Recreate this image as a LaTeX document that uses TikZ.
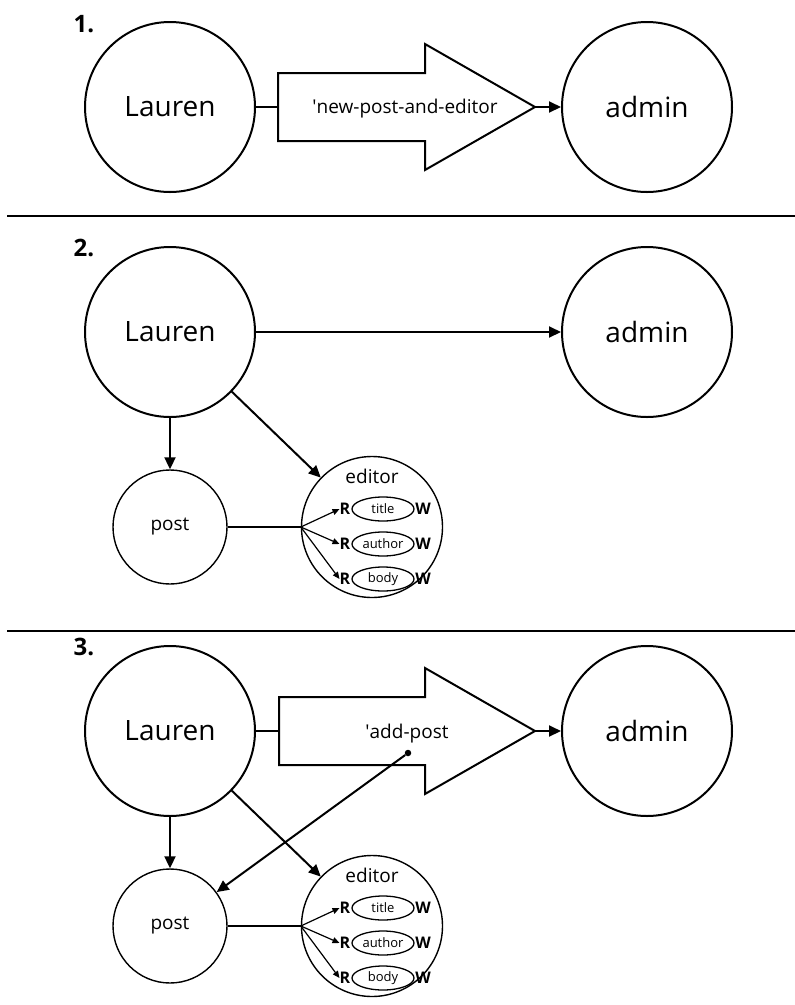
\documentclass[tikz,border=0pt]{standalone}
\usepackage{fontspec}
\setmainfont{Open Sans}
\usetikzlibrary{arrows.meta,shapes.geometric}
\tikzset{
 big/.style={circle, draw, line width=2pt, minimum size=170pt, inner sep=0pt, font=\fontsize{28}{32}\selectfont},
 small/.style={circle, draw, line width=1.4pt, minimum size=114pt, inner sep=0pt, font=\fontsize{19}{22}\selectfont},
 edit/.style={circle, draw, line width=1.4pt, minimum size=141pt, inner sep=0pt},
 conn/.style={line width=2pt, -{Triangle[length=12pt,width=11pt]}},
 thinl/.style={line width=1.4pt},
 sarr/.style={line width=1.2pt, -{Triangle[length=7pt,width=6pt]}},
 field/.style={ellipse, draw, line width=1.3pt, minimum width=62pt, minimum height=24pt, inner sep=0pt, font=\fontsize{13}{15}\selectfont},
 rw/.style={font=\bfseries\fontsize{16}{18}\selectfont, inner sep=0pt},
 num/.style={font=\bfseries\fontsize{24}{28}\selectfont, inner sep=0pt},
 sepline/.style={line width=2.5pt},
 bigarrow/.style={draw, line width=2pt, fill=white, line join=miter},
 lab/.style={font=\fontsize{19}{22}\selectfont, inner sep=0pt},
 dotnode/.style={circle, fill, inner sep=0pt, minimum size=6.5pt},
}
\begin{document}
\begin{tikzpicture}[x=1pt,y=-1pt]
\useasboundingbox (0,0) rectangle (795,1005);
% separators
\coordinate (s1a) at (7,216); \coordinate (s1b) at (795,216);
\coordinate (s2a) at (7,631); \coordinate (s2b) at (795,631);
\draw[sepline] (s1a) -- (s1b);
\draw[sepline] (s2a) -- (s2b);

% ---------- Section 1 ----------
\node[num] (n1) at (84,24) {1.};
\node[big] (L1) at (170,107) {Lauren};
\node[big] (A1) at (647,107) {admin};
\draw[bigarrow] (278,73) -- (425,73) -- (425,44) -- (535,107) -- (425,170) -- (425,141) -- (278,141) -- cycle;
\coordinate (t1) at (278,107);
\coordinate (p1) at (535,107);
\node[lab, anchor=base] (m1) at (405,113) {\textquotesingle new-post-and-editor};
\draw[line width=2pt] (L1) -- (t1);
\draw[conn] (p1) -- (A1);

% ---------- Section 2 ----------
\node[num] (n2) at (84,248) {2.};
\node[big] (L2) at (170,332) {Lauren};
\node[big] (A2) at (647,332) {admin};
\node[small] (P2) at (170,527) {post};
\node[edit] (E2) at (372,527) {};
\node[lab] (et2) at (372,476) {editor};
\node[field] (f21) at (383,509) {title};
\node[field] (f22) at (383,544) {author};
\node[field] (f23) at (383,579) {body};
\node[rw] (r21) at (345,509) {R};
\node[rw] (r22) at (345,544) {R};
\node[rw] (r23) at (345,579) {R};
\node[rw] (w21) at (423,509) {W};
\node[rw] (w22) at (423,544) {W};
\node[rw] (w23) at (423,579) {W};
\draw[conn] (L2) -- (A2);
\draw[conn] (L2) -- (P2);
\draw[conn] (L2) -- (E2);
\draw[thinl] (P2.east) -- (E2.west);
\draw[sarr] (E2.west) -- (r21.west);
\draw[sarr] (E2.west) -- (r22.west);
\draw[sarr] (E2.west) -- (r23.west);

% ---------- Section 3 ----------
\node[num] (n3) at (84,647) {3.};
\node[big] (L3) at (170,731) {Lauren};
\node[big] (A3) at (647,731) {admin};
\node[small] (P3) at (170,926) {post};
\node[edit] (E3) at (372,926) {};
\node[lab] (et3) at (372,875) {editor};
\node[field] (f31) at (383,908) {title};
\node[field] (f32) at (383,943) {author};
\node[field] (f33) at (383,978) {body};
\node[rw] (r31) at (345,908) {R};
\node[rw] (r32) at (345,943) {R};
\node[rw] (r33) at (345,978) {R};
\node[rw] (w31) at (423,908) {W};
\node[rw] (w32) at (423,943) {W};
\node[rw] (w33) at (423,978) {W};
\draw[bigarrow] (279,697) -- (425,697) -- (425,668) -- (535,731) -- (425,794) -- (425,765) -- (279,765) -- cycle;
\coordinate (t3) at (279,731);
\coordinate (p3) at (535,731);
\node[lab, anchor=base] (m3) at (407,738) {\textquotesingle add-post};
\draw[line width=2pt] (L3) -- (t3);
\draw[conn] (p3) -- (A3);
\node[dotnode] (d3) at (408,753) {};
\draw[conn] (d3) -- (P3);
\draw[conn] (L3) -- (P3);
\draw[conn] (L3) -- (E3);
\draw[thinl] (P3.east) -- (E3.west);
\draw[sarr] (E3.west) -- (r31.west);
\draw[sarr] (E3.west) -- (r32.west);
\draw[sarr] (E3.west) -- (r33.west);
\end{tikzpicture}
\end{document}
